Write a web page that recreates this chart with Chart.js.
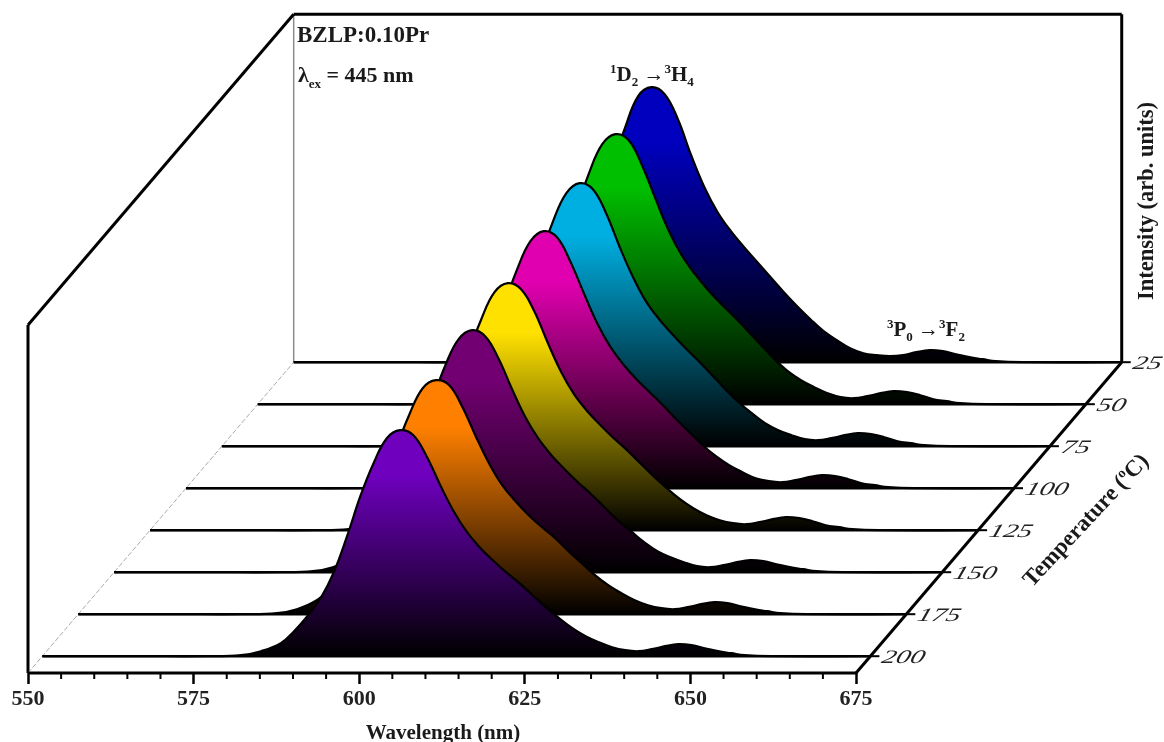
<!DOCTYPE html>
<html>
<head>
<meta charset="utf-8">
<title>BZLP:0.10Pr emission vs temperature</title>
<script src="https://cdn.jsdelivr.net/npm/chart.js@4"></script>
<style>
    html, body { margin: 0; padding: 0; background: #fff; overflow: hidden; }
    canvas { display: block; }
</style>
</head>
<body>
<canvas id="myChart" width="1164" height="742"></canvas>
<script>
const wavelengths = [550,565,575,580,583,586,588,590,592,594,596,598,600,602,604,606,608,610,612,614,616,618,620,622,624,626,628,630,632,634,636,638,640,642,644,646,648,650,652,654,656,660,675];

const temperatures = [200, 175, 150, 125, 100, 75, 50, 25];

const intensity200 = [0,0,0,1,5,13,25,40,58,84,120,160,193,218,226,221,200,172,146,125,109,96,84,73,61,49,38,28,20,14,9,6,5,7,10,12,11,8,5,3,1,0,0];
const intensity175 = [0,0,0,1,5,14,26,42,60,87,124,166,200,226,234,229,207,178,151,129,113,99,87,76,63,51,39,29,21,14,9,6,5,7,10,12,11,8,5,3,1,0,0];
const intensity150 = [0,0,0,1,5,14,27,43,62,90,129,171,207,233,242,236,214,184,156,134,117,103,90,78,65,52,41,30,21,15,10,6,5,7,10,12,11,8,5,3,1,0,0];
const intensity125 = [0,0,0,1,5,14,27,44,63,92,131,175,211,238,247,241,219,188,159,136,119,105,92,80,67,54,42,31,22,15,10,7,6,8,11,13,12,9,5,3,1,0,0];
const intensity100 = [0,0,0,1,6,15,28,45,66,95,136,182,219,247,257,251,227,196,166,142,124,109,96,83,69,56,43,32,23,16,10,7,6,8,11,13,12,9,5,3,1,0,0];
const intensity75 = [0,0,0,1,6,15,29,47,68,98,140,186,225,253,263,257,233,200,170,145,127,112,98,85,71,57,44,33,23,16,11,7,6,8,11,13,12,9,5,3,1,0,0];
const intensity50 = [0,0,0,1,6,16,30,48,69,100,143,191,231,260,270,264,239,206,174,149,130,114,100,87,73,59,45,33,24,17,11,7,6,8,11,13,12,9,5,3,1,0,0];
const intensity25 = [0,0,0,1,6,16,30,49,71,102,146,195,234,266,275,268,243,207,175,150,131,115,100,85,70,56,43,31,22,14,9,7,6,7,10,12,11,8,5,3,1,0,0];

const allIntensities = [intensity200, intensity175, intensity150, intensity125, intensity100, intensity75, intensity50, intensity25];

const seriesColors = ['#6e00be', '#ff8000', '#730073', '#ffe100', '#e100af', '#00afe1', '#00be00', '#0000be'];

const majorTicks = [550, 575, 600, 625, 650, 675];
const minorTicks = [555, 560, 565, 570, 580, 585, 590, 595, 605, 610, 615, 620, 630, 635, 640, 645, 655, 660, 665, 670];

// waterfall depth: one 25 degree step moves a trace this far on the x and y scales
const stepX = 5.42;
const stepY = 42;
const frontTemp = 210;
const wallHeight = 348;

function depth(temp) {
    return (frontTemp - temp) / 25;
}

function shiftX(temp) {
    return depth(temp) * stepX;
}

function shiftY(temp) {
    return depth(temp) * stepY;
}

function traceGradient(context, temp, peak) {
    const chart = context.chart;
    if (!chart.chartArea) return '#000';
    const y = chart.scales.y;
    const g = chart.ctx.createLinearGradient(0, y.getPixelForValue(shiftY(temp) + peak), 0, y.getPixelForValue(shiftY(temp)));
    const color = seriesColors[temperatures.indexOf(temp)];
    g.addColorStop(0, color);
    g.addColorStop(0.2, color);
    g.addColorStop(1, '#000');
    return g;
}

function buildDatasets() {
    const datasets = [];
    temperatures.forEach(function(temp, i) {
        const values = allIntensities[i];
        const peak = Math.max.apply(null, values);
        // baseline goes before its hump so it paints on top of the fill
        datasets.push({
            label: temp + ' base',
            data: [
                {x: 550 + shiftX(temp), y: shiftY(temp)},
                {x: 675 + shiftX(temp), y: shiftY(temp)}
            ],
            borderColor: '#000',
            borderWidth: 2.5,
            pointRadius: 0,
            fill: false,
            clip: false
        });
        datasets.push({
            label: temp + ' C',
            data: wavelengths.map(function(w, j) {
                return {x: w + shiftX(temp), y: values[j] + shiftY(temp)};
            }),
            borderColor: '#000',
            borderWidth: 2.2,
            pointRadius: 0,
            tension: 0.4,
            backgroundColor: function(context) {
                return traceGradient(context, temp, peak);
            },
            fill: {target: {value: shiftY(temp)}},
            clip: false
        });
    });
    return datasets;
}

function segment(ctx, x, y, x1, y1, x2, y2, color, width, dash) {
    ctx.save();
    ctx.beginPath();
    ctx.strokeStyle = color;
    ctx.lineWidth = width;
    ctx.setLineDash(dash || []);
    ctx.moveTo(x.getPixelForValue(x1), y.getPixelForValue(y1));
    ctx.lineTo(x.getPixelForValue(x2), y.getPixelForValue(y2));
    ctx.stroke();
    ctx.restore();
}

// text with super and subscript parts: [text, 'sup' or 'sub' or undefined]
function drawRuns(ctx, runs, px, py, size, style) {
    let pos = px;
    runs.forEach(function(run) {
        const kind = run[1];
        const fontSize = kind ? Math.round(size * 0.6) : size;
        ctx.font = (style || 'bold') + ' ' + fontSize + 'px "Liberation Serif"';
        let dy = 0;
        if (kind === 'sup') dy = -size * 0.38;
        if (kind === 'sub') dy = size * 0.25;
        ctx.fillText(run[0], pos, py + dy);
        pos += ctx.measureText(run[0]).width;
    });
}

const framePlugin = {
    id: 'frame',
    beforeDatasetsDraw: function(chart) {
        const ctx = chart.ctx;
        const x = chart.scales.x;
        const y = chart.scales.y;
        const backX = shiftX(25);
        const backY = shiftY(25);
        // back wall
        segment(ctx, x, y, 550 + backX, backY, 550 + backX, backY + wallHeight, '#8c8c8c', 1.5);
        segment(ctx, x, y, 550 + backX, backY + wallHeight, 675 + backX, backY + wallHeight, '#000', 3);
        segment(ctx, x, y, 675 + backX, backY, 675 + backX, backY + wallHeight, '#000', 3);
        // left wall
        segment(ctx, x, y, 550, 0, 550, wallHeight, '#000', 3);
        segment(ctx, x, y, 550, wallHeight, 550 + backX, backY + wallHeight, '#000', 3);
        // floor
        segment(ctx, x, y, 550, 0, 550 + backX, backY, '#aaa', 1, [5, 2]);
    },
    afterDatasetsDraw: function(chart) {
        const ctx = chart.ctx;
        const x = chart.scales.x;
        const y = chart.scales.y;
        const backX = shiftX(25);
        const backY = shiftY(25);
        segment(ctx, x, y, 550, 0, 675, 0, '#000', 3);
        segment(ctx, x, y, 675, 0, 675 + backX, backY, '#000', 3);

        ctx.save();
        ctx.strokeStyle = '#000';
        ctx.lineWidth = 2;
        minorTicks.forEach(function(v) {
            const px = x.getPixelForValue(v);
            ctx.beginPath();
            ctx.moveTo(px, y.bottom);
            ctx.lineTo(px, y.bottom + 6);
            ctx.stroke();
        });

        // temperature axis ticks and labels
        ctx.fillStyle = '#222';
        ctx.textBaseline = 'alphabetic';
        temperatures.forEach(function(temp) {
            const px = x.getPixelForValue(675 + shiftX(temp));
            const py = y.getPixelForValue(shiftY(temp));
            ctx.beginPath();
            ctx.moveTo(px, py);
            ctx.lineTo(px + 9, py);
            ctx.stroke();
            ctx.save();
            ctx.translate(px + 10, py + 7);
            ctx.transform(1.5, 0, -0.3, 1, 0, 0);
            ctx.font = 'italic 19px "Liberation Serif"';
            ctx.fillText(String(temp), 0, 0);
            ctx.restore();
        });

        ctx.fillStyle = '#1a1a1a';
        ctx.textAlign = 'left';
        drawRuns(ctx, [['BZLP:0.10Pr']], 297, 42, 23);
        drawRuns(ctx, [['\u03bb'], ['ex', 'sub'], [' = 445 nm']], 298, 82, 22);
        drawRuns(ctx, [['1', 'sup'], ['D'], ['2', 'sub'], [' \u2192'], ['3', 'sup'], ['H'], ['4', 'sub']], 610, 81, 21);
        drawRuns(ctx, [['3', 'sup'], ['P'], ['0', 'sub'], [' \u2192'], ['3', 'sup'], ['F'], ['2', 'sub']], 887, 336, 21);

        ctx.textAlign = 'center';
        ctx.font = 'bold 21px "Liberation Serif"';
        ctx.fillText('Wavelength (nm)', 443, 739);

        ctx.save();
        ctx.translate(1153, 201);
        ctx.rotate(-Math.PI / 2);
        ctx.font = 'bold 22.5px "Liberation Serif"';
        ctx.fillText('Intensity (arb. units)', 0, 0);
        ctx.restore();

        ctx.save();
        ctx.translate(1032, 588);
        ctx.rotate(-47 * Math.PI / 180);
        ctx.textAlign = 'left';
        drawRuns(ctx, [['Temperature ('], ['o', 'sup'], ['C)']], 0, 0, 23);
        ctx.restore();

        ctx.restore();
    }
};

document.addEventListener('DOMContentLoaded', function() {
    const canvas = document.getElementById('myChart');
    new Chart(canvas, {
        type: 'line',
        data: {datasets: buildDatasets()},
        plugins: [framePlugin],
        options: {
            responsive: false,
            animation: false,
            parsing: false,
            normalized: true,
            layout: {padding: {left: 28, right: 43, top: 14, bottom: 0}},
            plugins: {
                legend: {display: false},
                tooltip: {enabled: false},
                filler: {drawTime: 'beforeDatasetDraw'}
            },
            scales: {
                x: {
                    type: 'linear',
                    min: 550,
                    max: 715,
                    afterBuildTicks: function(scale) {
                        scale.ticks = majorTicks.map(function(v) { return {value: v}; });
                    },
                    afterFit: function(scale) {
                        scale.height = 69;
                    },
                    border: {display: false},
                    grid: {
                        drawOnChartArea: false,
                        drawTicks: true,
                        tickLength: 11,
                        tickWidth: 2.5,
                        tickColor: '#000'
                    },
                    ticks: {
                        autoSkip: false,
                        maxRotation: 0,
                        padding: 2,
                        color: '#222',
                        font: {family: '"Liberation Serif"', size: 22, weight: 'bold'},
                        callback: function(v) { return String(v); }
                    }
                },
                y: {
                    type: 'linear',
                    display: false,
                    min: 0,
                    max: 659
                }
            }
        }
    });
});
</script>
</body>
</html>
